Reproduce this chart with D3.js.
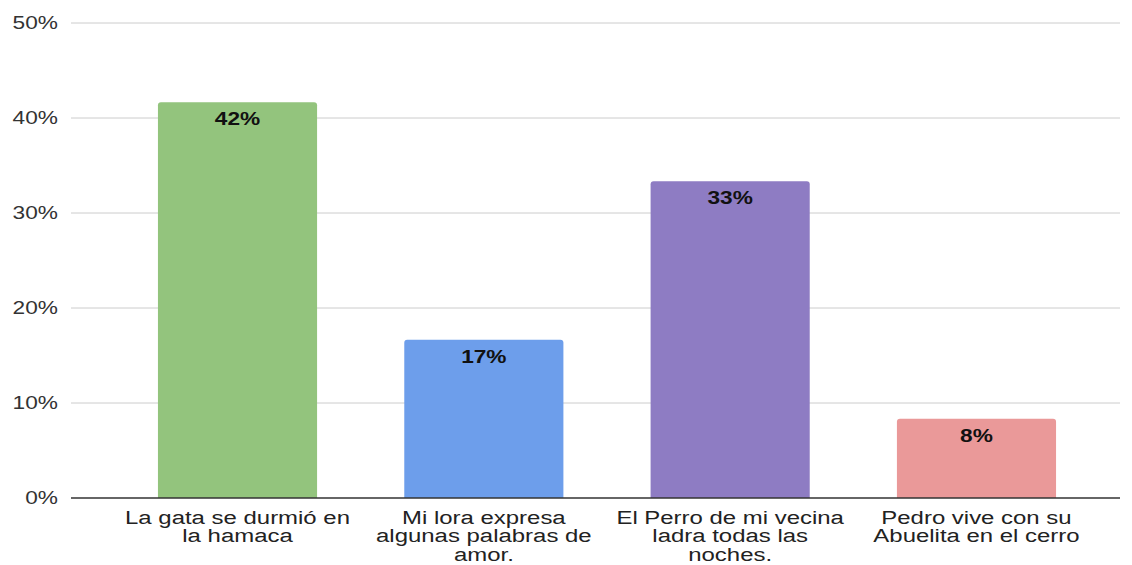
<!DOCTYPE html>
<html>
<head>
<meta charset="utf-8">
<script src="https://cdn.jsdelivr.net/npm/d3@7"></script>
<style>
  body { margin: 0; background: #fff; }
  text { font-family: "Liberation Sans", Arial, sans-serif; }
</style>
</head>
<body>
<script>
// chart data
const categories = [
  ["La gata se durmió en", "la hamaca"],
  ["Mi lora expresa", "algunas palabras de", "amor."],
  ["El Perro de mi vecina", "ladra todas las", "noches."],
  ["Pedro vive con su", "Abuelita en el cerro"]
];
const values = [41.67, 16.67, 33.33, 8.33];
const labels = ["42%", "17%", "33%", "8%"];
const colors = ["#93c47d", "#6d9eeb", "#8e7cc3", "#ea9999"];
const yTicks = [0, 10, 20, 30, 40, 50];

const width = 1132;
const height = 565;
const margin = { top: 23, right: 12, bottom: 67, left: 71 };
// the original picture is stretched sideways, so text is widened too
const sx = 1.26;

let svg = d3.select("body").append("svg")
  .attr("width", width)
  .attr("height", height);

let x = d3.scaleBand()
  .domain(d3.range(categories.length))
  .range([margin.left, 1143])
  .paddingInner(0.354)
  .paddingOuter(0.353);

let y = d3.scaleLinear()
  .domain([0, 50])
  .range([height - margin.bottom, margin.top]);

// gridlines
svg.append("g")
  .selectAll("line")
  .data(yTicks.slice(1))
  .join("line")
  .attr("x1", margin.left)
  .attr("x2", width - margin.right)
  .attr("y1", d => y(d))
  .attr("y2", d => y(d))
  .attr("stroke", "#cccccc")
  .attr("stroke-width", 1);

// y tick labels
svg.append("g")
  .selectAll("text")
  .data(yTicks)
  .join("text")
  .attr("transform", d => `translate(58,${y(d) + 6}) scale(${sx},1)`)
  .attr("text-anchor", "end")
  .attr("font-size", 18)
  .attr("fill", "#333")
  .text(d => d + "%");

// bars with slightly rounded tops
svg.append("g")
  .selectAll("path")
  .data(values)
  .join("path")
  .attr("fill", (d, i) => colors[i])
  .attr("d", (d, i) => {
    const x0 = x(i), x1 = x(i) + x.bandwidth();
    const top = y(d), bot = y(0), r = 3;
    return `M${x0},${bot}V${top + r}Q${x0},${top} ${x0 + r},${top}H${x1 - r}Q${x1},${top} ${x1},${top + r}V${bot}Z`;
  });

// value labels
svg.append("g")
  .selectAll("text")
  .data(values)
  .join("text")
  .attr("transform", (d, i) => `translate(${x(i) + x.bandwidth() / 2},${y(d) + 23}) scale(${sx},1)`)
  .attr("text-anchor", "middle")
  .attr("font-size", 18)
  .attr("font-weight", "bold")
  .attr("fill", "#111")
  .text((d, i) => labels[i]);

// x axis line
svg.append("line")
  .attr("x1", margin.left)
  .attr("x2", width - margin.right)
  .attr("y1", y(0))
  .attr("y2", y(0))
  .attr("stroke", "#333")
  .attr("stroke-width", 1.5);

// category labels
svg.append("g")
  .selectAll("text")
  .data(categories)
  .join("text")
  .attr("transform", (d, i) => `translate(${x(i) + x.bandwidth() / 2},${y(0) + 26}) scale(${sx},1)`)
  .attr("text-anchor", "middle")
  .attr("font-size", 19)
  .attr("fill", "#222")
  .each(function(lines) {
    d3.select(this).selectAll("tspan")
      .data(lines)
      .join("tspan")
      .attr("x", 0)
      .attr("y", (l, j) => j * 18.5)
      .text(l => l);
  });
</script>
</body>
</html>
